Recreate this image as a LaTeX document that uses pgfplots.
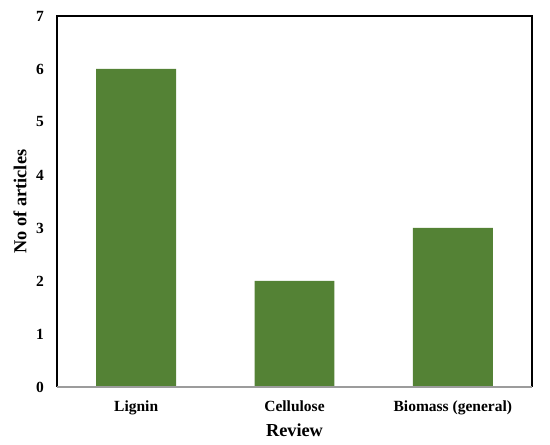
\documentclass[border=0pt]{standalone}
\usepackage{pgfplots}
\pgfplotsset{compat=1.18}
\usepackage{fontspec}
\setmainfont{Liberation Serif}
\definecolor{bargreen}{HTML}{548235}
\definecolor{axgray}{HTML}{9C9C9C}
\begin{document}
\begin{tikzpicture}[x=1pt,y=1pt]
\path[use as bounding box] (0,0) rectangle (550,445);
\begin{axis}[
  at={(57pt,58pt)}, anchor=south west,
  scale only axis, width=475pt, height=371pt,
  xmin=-0.5, xmax=2.5, ymin=0, ymax=7,
  axis line style={draw=none},
  xtick=data, xticklabels={Lignin,Cellulose,Biomass (general)},
  ytick={0,1,...,7},
  major tick length=0pt,
  tick label style={font=\bfseries\fontsize{15.5}{18}\selectfont, inner sep=0pt},
  /pgf/number format/assume math mode=true,
  yticklabel style={anchor=east, xshift=-13pt},
  xticklabel style={anchor=base, yshift=-25pt},
  xlabel={Review}, ylabel={No of articles},
  label style={font=\bfseries\fontsize{18.3}{21}\selectfont},
  xlabel style={at={(axis description cs:0.5,0)}, anchor=center, yshift=-43pt},
  ylabel style={at={(axis description cs:0,0.5)}, anchor=center, yshift=37pt},
  ybar, bar width=0.505,
  clip=false,
]
\addplot[fill=bargreen, draw=none] coordinates {(0,6) (1,2) (2,3)};
\draw[black, line width=1.6pt] (axis cs:-0.5,0) -- (axis cs:-0.5,7) -- (axis cs:2.5,7) -- (axis cs:2.5,0);
\draw[axgray, line width=2pt] (axis cs:-0.5,0) -- (axis cs:2.5,0);
\end{axis}
\end{tikzpicture}
\end{document}
